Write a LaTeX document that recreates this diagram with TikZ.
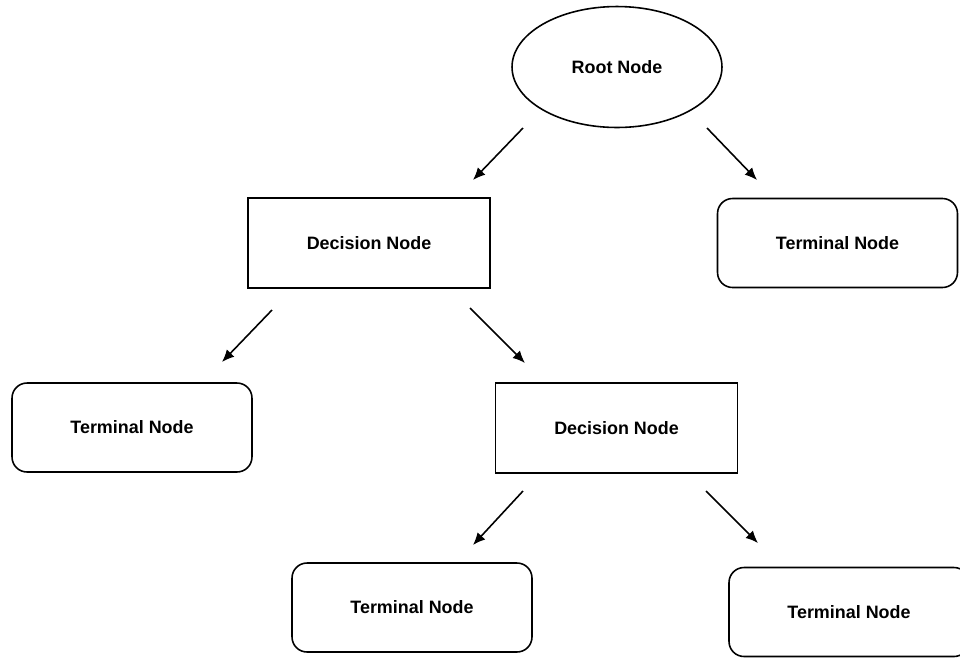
\documentclass[tikz,border=0pt]{standalone}
\usepackage{fontspec}
\setmainfont{Liberation Sans}
\usetikzlibrary{arrows.meta,shapes.geometric}

\tikzset{
    every node/.style={font=\fontsize{10.2}{12}\selectfont\bfseries},
    rootnode/.style={draw, ellipse, line width=0.9pt, minimum width=4.2cm, minimum height=2.42cm},
    decision/.style={draw, line width=0.9pt, minimum width=4.84cm, minimum height=1.8cm},
    terminal/.style={draw, line width=0.9pt, rounded corners=0.3cm, minimum width=4.8cm, minimum height=1.78cm},
    branch/.style={-{Latex[length=7pt,width=6pt]}, line width=0.9pt}
}

\begin{document}
\begin{tikzpicture}[x=0.02cm, y=-0.02cm]
            \useasboundingbox (0,0) rectangle (960,657);

            % Root node
            \node[rootnode] (root) at (617,67) {Root Node};

            % Second stage nodes
            \node[decision] (dec1) at (369,243) {Decision Node};
            \node[terminal] (term1) at (837.5,243) {Terminal Node};
            \coordinate (a1) at (523,128);
            \coordinate (a2) at (473,180);
            \coordinate (b1) at (707,128);
            \coordinate (b2) at (757,180);
            \draw[branch] (a1) -- (a2);
            \draw[branch] (b1) -- (b2);

            % Third stage nodes
            \node[terminal] (term2) at (132,427.5) {Terminal Node};
            \node[decision] (dec2) at (616.5,428) {Decision Node};
            \coordinate (c1) at (272,310);
            \coordinate (c2) at (222,362);
            \coordinate (d1) at (470,308);
            \coordinate (d2) at (525,363);
            \draw[branch] (c1) -- (c2);
            \draw[branch] (d1) -- (d2);

            % Fourth stage nodes
            \node[terminal] (term3) at (412,607.5) {Terminal Node};
            \node[terminal] (term4) at (849,612) {Terminal Node};
            \coordinate (e1) at (523,491);
            \coordinate (e2) at (473,545);
            \coordinate (f1) at (706,491);
            \coordinate (f2) at (758,543);
            \draw[branch] (e1) -- (e2);
            \draw[branch] (f1) -- (f2);
        \end{tikzpicture}
\end{document}
